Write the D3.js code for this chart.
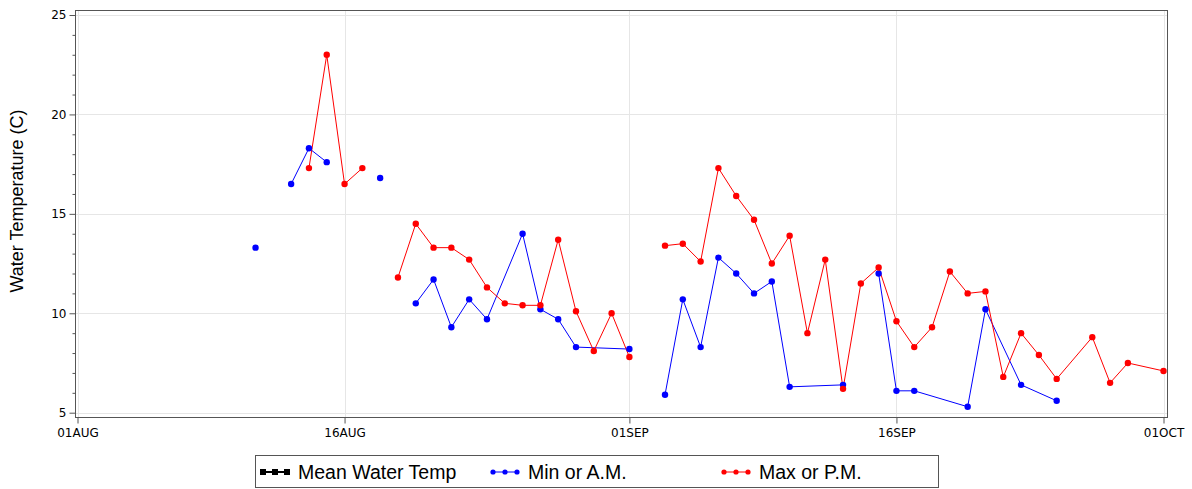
<!DOCTYPE html>
<html>
<head>
<meta charset="utf-8">
<script src="https://cdnjs.cloudflare.com/ajax/libs/d3/7.8.5/d3.min.js"></script>
<style>
  html, body { margin: 0; padding: 0; background: #fff; }
  svg { display: block; }
  .tick text { font-family: "DejaVu Sans", sans-serif; font-size: 12px; fill: #000; }
</style>
</head>
<body>
<svg id="chart" width="1192" height="489"></svg>
<script>
// Daily water temperature readings (°C). null marks a recorded day with no value,
// which breaks the line; days that are absent are simply joined across.
const minDates = ["08-11","08-12","08-13","08-14","08-15","08-16","08-17","08-18","08-19",
  "08-20","08-21","08-22","08-23","08-24","08-26","08-27","08-28","08-29","09-01","09-02",
  "09-03","09-04","09-05","09-06","09-07","09-08","09-09","09-10","09-13","09-14","09-15",
  "09-16","09-17","09-20","09-21","09-23","09-25"];
const minValues = [13.3,null,16.5,18.3,17.6,null,null,16.8,null,
  10.5,11.7,9.3,10.7,9.7,14.0,10.2,9.7,8.3,8.2,null,
  5.9,10.7,8.3,12.8,12.0,11.0,11.6,6.3,6.4,null,12.0,
  6.1,6.1,5.3,10.2,6.4,5.6];

const maxDates = ["08-14","08-15","08-16","08-17","08-18","08-19","08-20","08-21","08-22",
  "08-23","08-24","08-25","08-26","08-27","08-28","08-29","08-30","08-31","09-01","09-02",
  "09-03","09-04","09-05","09-06","09-07","09-08","09-09","09-10","09-11","09-12","09-13",
  "09-14","09-15","09-16","09-17","09-18","09-19","09-20","09-21","09-22","09-23","09-24",
  "09-25","09-27","09-28","09-29","10-01"];
const maxValues = [17.3,23.0,16.5,17.3,null,11.8,14.5,13.3,13.3,
  12.7,11.3,10.5,10.4,10.4,13.7,10.1,8.1,10.0,7.8,null,
  13.4,13.5,12.6,17.3,15.9,14.7,12.5,13.9,9.0,12.7,6.2,
  11.5,12.3,9.6,8.3,9.3,12.1,11.0,11.1,6.8,9.0,7.9,
  6.7,8.8,6.5,7.5,7.1];

// Mean series has no readings in this period
const meanDates = [];
const meanValues = [];

const xTickDates = ["08-01","08-16","09-01","09-16","10-01"];
const yTicks = [5, 10, 15, 20, 25];

const seriesNames = ["Mean Water Temp", "Min or A.M.", "Max or P.M."];
const seriesColors = ["#000000", "#0000ff", "#ff0000"];

const YEAR = 2013;
const parse = d3.timeParse("%Y-%m-%d");
const toDate = s => parse(YEAR + "-" + s);

const build = (dates, values) => dates.map((d, i) => ({ date: toDate(d), value: values[i] }));
const series = [
  { name: seriesNames[0], color: seriesColors[0], symbol: "square", data: build(meanDates, meanValues) },
  { name: seriesNames[1], color: seriesColors[1], symbol: "circle", data: build(minDates, minValues) },
  { name: seriesNames[2], color: seriesColors[2], symbol: "circle", data: build(maxDates, maxValues) }
];

const svg = d3.select("#chart");

// Plot area frame
const frame = { left: 75, right: 1167, top: 10, bottom: 417 };

const x = d3.scaleTime()
  .domain([toDate(xTickDates[0]), toDate(xTickDates[xTickDates.length - 1])])
  .range([77.5, 1163.5]);

const y = d3.scaleLinear()
  .domain([5, 25])
  .range([412.7, 15]);

// Grid lines
const grid = svg.append("g").attr("class", "grid");
grid.selectAll("line.h").data(yTicks).join("line")
  .attr("x1", frame.left).attr("x2", frame.right)
  .attr("y1", d => Math.round(y(d)) + 0.5).attr("y2", d => Math.round(y(d)) + 0.5)
  .attr("stroke", "#e6e6e6").attr("stroke-width", 1);
grid.selectAll("line.v").data(xTickDates.map(toDate)).join("line")
  .attr("x1", d => Math.round(x(d)) + 0.5).attr("x2", d => Math.round(x(d)) + 0.5)
  .attr("y1", frame.top).attr("y2", frame.bottom)
  .attr("stroke", "#e6e6e6").attr("stroke-width", 1);

// Frame border
svg.append("rect")
  .attr("x", frame.left + 0.5).attr("y", frame.top + 0.5)
  .attr("width", frame.right - frame.left).attr("height", frame.bottom - frame.top)
  .attr("fill", "none").attr("stroke", "#555").attr("stroke-width", 1);

// X axis
const fmtDay = d3.timeFormat("%d%b");
const xAxis = d3.axisBottom(x)
  .tickValues(xTickDates.map(toDate))
  .tickFormat(d => fmtDay(d).toUpperCase())
  .tickSize(6).tickPadding(5);
const gx = svg.append("g")
  .attr("transform", `translate(0,${frame.bottom + 0.5})`)
  .call(xAxis);
gx.select(".domain").remove();
gx.selectAll(".tick line").attr("stroke", "#555");

// Y axis with minor ticks
const yMinor = d3.range(5, 25.01, 1).filter(v => !yTicks.includes(v));
const gyMinor = svg.append("g")
  .attr("transform", `translate(${frame.left + 0.5},0)`)
  .call(d3.axisLeft(y).tickValues(yMinor).tickSize(3).tickFormat(""));
gyMinor.select(".domain").remove();
gyMinor.selectAll(".tick line").attr("stroke", "#555");

const gy = svg.append("g")
  .attr("transform", `translate(${frame.left + 0.5},0)`)
  .call(d3.axisLeft(y).tickValues(yTicks).tickSize(6).tickPadding(3));
gy.select(".domain").remove();
gy.selectAll(".tick line").attr("stroke", "#555");

// Y axis title
svg.append("text")
  .attr("transform", "translate(23,201) rotate(-90)")
  .attr("text-anchor", "middle")
  .attr("font-family", "Liberation Sans, Arial, sans-serif")
  .attr("font-size", 18)
  .attr("fill", "#000")
  .text("Water Temperature (C)");

// Series lines and markers
const line = d3.line()
  .defined(d => d.value !== null)
  .x(d => x(d.date))
  .y(d => y(d.value));

const plot = svg.append("g");
series.forEach(s => {
  plot.append("path")
    .datum(s.data)
    .attr("fill", "none")
    .attr("stroke", s.color)
    .attr("stroke-width", 1)
    .attr("d", line);
});
series.forEach(s => {
  plot.selectAll(null)
    .data(s.data.filter(d => d.value !== null))
    .join("circle")
    .attr("cx", d => x(d.date))
    .attr("cy", d => y(d.value))
    .attr("r", 3.2)
    .attr("fill", s.color);
});

// Legend
const legendBox = { x: 255, y: 455, w: 683, h: 32 };
const legend = svg.append("g");
legend.append("rect")
  .attr("x", legendBox.x + 0.5).attr("y", legendBox.y + 0.5)
  .attr("width", legendBox.w).attr("height", legendBox.h)
  .attr("fill", "#fff").attr("stroke", "#555");

const legendX = [261, 491, 722];
const cy = legendBox.y + legendBox.h / 2 + 1;
series.forEach((s, i) => {
  const g = legend.append("g").attr("transform", `translate(${legendX[i]},${cy})`);
  g.append("line").attr("x1", 0).attr("x2", 28).attr("y1", 0).attr("y2", 0)
    .attr("stroke", s.color).attr("stroke-width", s.symbol === "square" ? 2 : 1);
  [2, 14, 26].forEach(px => {
    if (s.symbol === "square") {
      g.append("rect").attr("x", px - 3).attr("y", -3).attr("width", 6).attr("height", 6).attr("fill", s.color);
    } else {
      g.append("circle").attr("cx", px).attr("cy", 0).attr("r", 2.6).attr("fill", s.color);
    }
  });
  g.append("text")
    .attr("x", 37).attr("y", 0).attr("dy", "0.35em")
    .attr("font-family", "Liberation Sans, Arial, sans-serif")
    .attr("font-size", 19.5)
    .attr("fill", "#000")
    .text(s.name);
});
</script>
</body>
</html>
